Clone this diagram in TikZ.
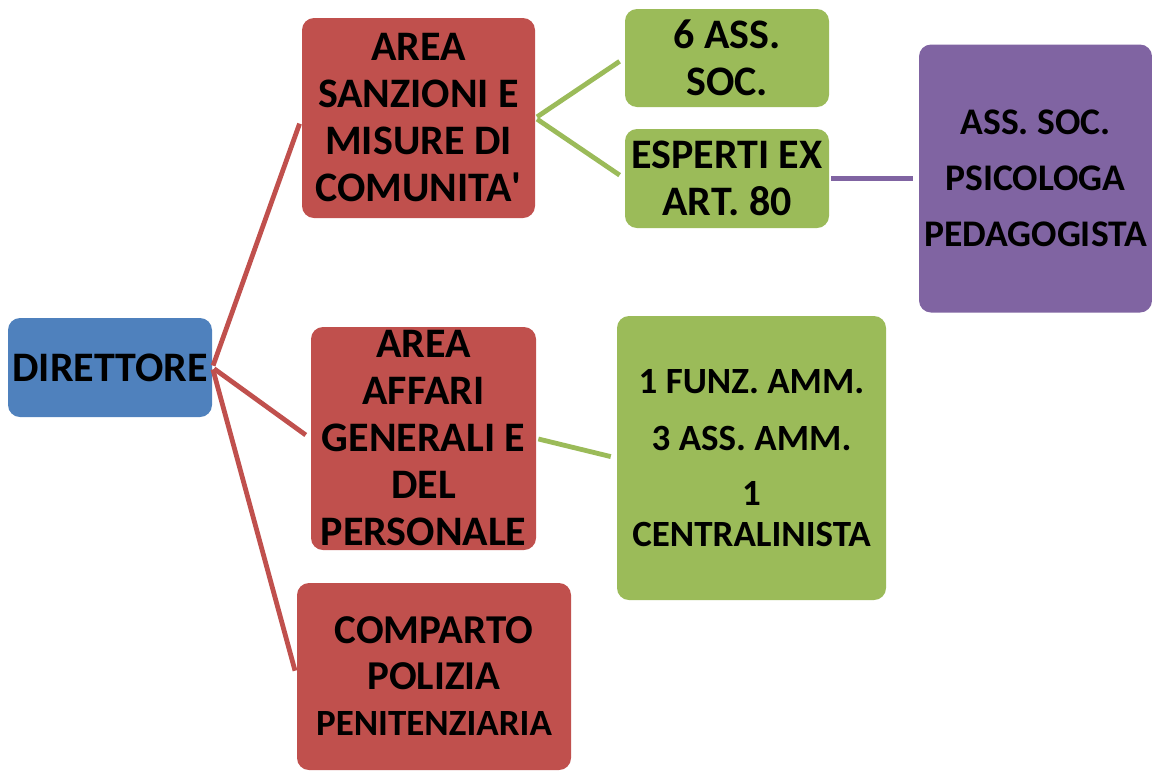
\documentclass[tikz,border=0pt]{standalone}
\usepackage{fontspec}
\setmainfont{Carlito}
\usetikzlibrary{positioning}
\definecolor{dirblue}{HTML}{4F81BD}
\definecolor{areared}{HTML}{C0504D}
\definecolor{staffgreen}{HTML}{9BBB59}
\definecolor{expurple}{HTML}{8064A2}
\newcommand{\pxu}{0.5pt}
\tikzset{
    boxsty/.style={rectangle,rounded corners=6pt,inner sep=0pt,align=center,anchor=center,
        font=\bfseries\fontsize{21}{23.5}\selectfont},
    dirsty/.style={boxsty,fill=dirblue,minimum width=102pt,minimum height=49.5pt},
    areasty/.style={boxsty,fill=areared},
    grnsty/.style={boxsty,fill=staffgreen},
    purpsty/.style={boxsty,fill=expurple,font=\bfseries\fontsize{18.8}{28}\selectfont},
    lnsty/.style={line width=2.4pt,shorten >=3pt,shorten <=1pt},
    redln/.style={lnsty,draw=areared},
    grnln/.style={lnsty,draw=staffgreen},
    purpln/.style={lnsty,draw=expurple},
}

\begin{document}
\begin{tikzpicture}[x=\pxu,y=-\pxu]
\useasboundingbox (0,0) rectangle (1152,772);

% boxes
\node[dirsty] (dir) at (110,367.5) {DIRETTORE};
\node[areasty,minimum width=116.5pt,minimum height=100pt] (san) at (418.5,118)
    {AREA\\SANZIONI E\\MISURE DI\\COMUNITA\textquotesingle};
\node[areasty,minimum width=112.5pt,minimum height=111.5pt] (aff) at (423.5,438.5)
    {AREA\\AFFARI\\GENERALI E\\DEL\\PERSONALE};
\node[areasty,minimum width=137pt,minimum height=93.5pt,font=\bfseries\fontsize{20.5}{23}\selectfont] (pol) at (434,676.5)
    {COMPARTO\\POLIZIA\\{\fontsize{18.5}{21}\selectfont PENITENZIARIA}};
\node[grnsty,minimum width=102pt,minimum height=49pt] (sei) at (727,58) {6 ASS.\\SOC.};
\node[grnsty,minimum width=102pt,minimum height=49.5pt] (esp) at (727,178.5) {ESPERTI EX\\ART. 80};
\node[grnsty,minimum width=134.5pt,minimum height=142pt,font=\bfseries\fontsize{18.5}{20.5}\selectfont] (amm) at (751.5,458)
    {1 FUNZ. AMM.\\[8pt]3 ASS. AMM.\\[7pt]1\\CENTRALINISTA};
\node[purpsty,minimum width=116.5pt,minimum height=134pt] (psi) at (1035.5,178.5)
    {ASS. SOC.\\PSICOLOGA\\PEDAGOGISTA};

% connectors
\draw[redln] (dir.east) -- (san.west);
\draw[redln] (dir.east) -- (aff.west);
\draw[redln] (dir.east) -- (pol.west);
\draw[grnln] (san.east) -- (sei.west);
\draw[grnln] (san.east) -- (esp.west);
\draw[grnln] (aff.east) -- (amm.west);
\draw[purpln] (esp.east) -- (psi.west);
\end{tikzpicture}
\end{document}
